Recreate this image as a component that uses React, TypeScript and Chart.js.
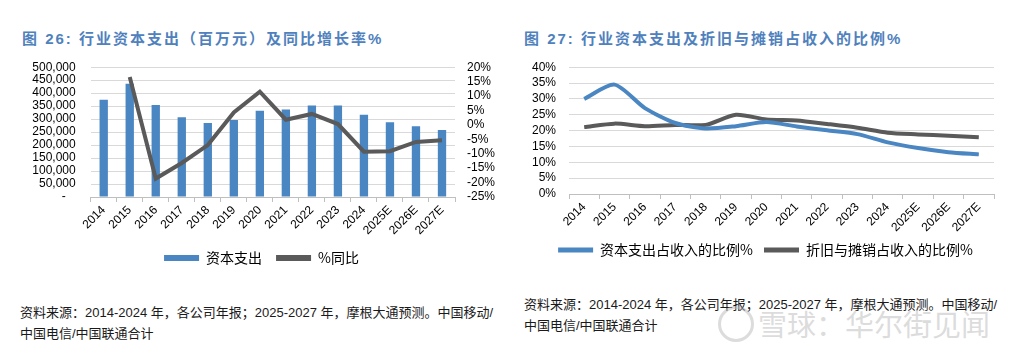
import React, { useEffect, useRef } from 'react';
import { Chart, registerables } from 'chart.js';

Chart.register(...registerables);

const years = ['2014', '2015', '2016', '2017', '2018', '2019', '2020', '2021', '2022', '2023', '2024', '2025E', '2026E', '2027E'];
const capex = [375000, 436000, 354000, 307000, 285000, 297000, 332000, 337000, 352000, 352000, 317000, 288000, 273000, 258000];
const capexYoY = [null, 16.6, -18.6, -13.2, -7.0, 4.3, 11.5, 1.8, 3.8, 0.3, -9.3, -9.1, -5.9, -5.3];
const capexToRevenue = [30.0, 34.5, 27.1, 22.4, 20.7, 21.4, 22.7, 21.3, 20.1, 18.9, 16.3, 14.5, 13.2, 12.5];
const daToRevenue = [21.1, 22.2, 21.4, 21.8, 21.8, 25.0, 23.5, 23.2, 22.1, 20.9, 19.3, 18.8, 18.4, 17.9];

const leftLegend = ['资本支出', '%同比'];
const rightLegend = ['资本支出占收入的比例%', '折旧与摊销占收入的比例%'];

const BLUE = '#4A86C2';
const GRAY = '#5A5A5A';
const GRID = '#D9D9D9';
const AXIS = '#BFBFBF';
const TICK_FONT = { family: "'Liberation Sans', Arial, sans-serif", size: 12 };
const LEGEND_FONT = { family: "'Noto Sans CJK SC', sans-serif", size: 14 };

function legendShift(target: number) {
  return {
    id: 'legendShift',
    afterLayout(chart: any) {
      const lg = chart.legend;
      if (!lg) return;
      const cur = (lg.left + lg.right) / 2;
      const d = target - cur;
      lg.left += d;
      lg.right += d;
    },
  };
}

function flatLegendLabels(chart: any) {
  const items = Chart.defaults.plugins.legend.labels.generateLabels(chart);
  return items.map((it: any) => ({ ...it, fillStyle: it.strokeStyle, lineWidth: 0, fontColor: '#000' }));
}

const legendSort = (a: any, b: any) => a.datasetIndex - b.datasetIndex;

function LeftChart() {
  const ref = useRef<HTMLCanvasElement>(null);
  useEffect(() => {
    const chart = new Chart(ref.current!, {
      type: 'bar',
      data: {
        labels: years,
        datasets: [
          {
            type: 'bar',
            label: leftLegend[0],
            data: capex,
            backgroundColor: BLUE,
            borderColor: BLUE,
            borderWidth: 0,
            barPercentage: 0.32,
            categoryPercentage: 1,
            yAxisID: 'y',
            order: 2,
          } as any,
          {
            type: 'line',
            label: leftLegend[1],
            data: capexYoY,
            borderColor: GRAY,
            backgroundColor: GRAY,
            borderWidth: 4,
            pointRadius: 0,
            tension: 0,
            yAxisID: 'y1',
            order: 1,
          } as any,
        ],
      },
      options: {
        animation: false,
        responsive: false,
        maintainAspectRatio: false,
        layout: { padding: { top: 0, bottom: 0, left: 0, right: 0 } },
        plugins: {
          legend: {
            position: 'bottom',
            labels: {
              boxWidth: 35,
              boxHeight: 6,
              padding: 14,
              font: LEGEND_FONT,
              color: '#000',
              generateLabels: flatLegendLabels,
              sort: legendSort,
            },
          },
          tooltip: { enabled: false },
        },
        scales: {
          x: {
            grid: { offset: true, drawOnChartArea: false, drawTicks: true, tickLength: 5, color: AXIS },
            border: { display: true, color: AXIS },
            ticks: { font: TICK_FONT, color: '#000', minRotation: 45, maxRotation: 45, autoSkip: false, padding: 1 },
            afterFit: (s: any) => { s.height = 40; },
          },
          y: {
            position: 'left',
            min: 0,
            max: 500000,
            grid: { color: GRID, drawTicks: false, tickLength: 0 },
            border: { display: false },
            ticks: {
              stepSize: 50000,
              autoSkip: false,
              font: TICK_FONT,
              color: '#000',
              padding: 15,
              callback: (v: any) => (Number(v) === 0 ? '-   ' : Number(v).toLocaleString('en-US')),
            },
            afterFit: (s: any) => { s.width = 70.7; },
          },
          y1: {
            position: 'right',
            min: -25,
            max: 20,
            grid: { display: false, drawTicks: false, tickLength: 0 },
            border: { display: false },
            ticks: { stepSize: 5, autoSkip: false, font: TICK_FONT, color: '#000', padding: 12, callback: (v: any) => `${v}%` },
            afterFit: (s: any) => { s.width = 55; },
          },
        },
      } as any,
      plugins: [legendShift(241.5)],
    });
    return () => chart.destroy();
  }, []);
  return <canvas ref={ref} width={490} height={230} style={{ position: 'absolute', left: 20, top: 44.5, width: 490, height: 230 }} />;
}

function RightChart() {
  const ref = useRef<HTMLCanvasElement>(null);
  useEffect(() => {
    const chart = new Chart(ref.current!, {
      type: 'line',
      data: {
        labels: years,
        datasets: [
          {
            label: rightLegend[0],
            data: capexToRevenue,
            borderColor: BLUE,
            backgroundColor: BLUE,
            borderWidth: 4,
            pointRadius: 0,
            tension: 0.25,
          },
          {
            label: rightLegend[1],
            data: daToRevenue,
            borderColor: GRAY,
            backgroundColor: GRAY,
            borderWidth: 4,
            pointRadius: 0,
            tension: 0.25,
          },
        ],
      },
      options: {
        animation: false,
        responsive: false,
        maintainAspectRatio: false,
        layout: { padding: { top: 0, bottom: 0, left: 0, right: 16 } },
        plugins: {
          legend: {
            position: 'bottom',
            labels: {
              boxWidth: 35,
              boxHeight: 5,
              padding: 11,
              font: LEGEND_FONT,
              color: '#000',
              generateLabels: flatLegendLabels,
              sort: legendSort,
            },
          },
          tooltip: { enabled: false },
        },
        scales: {
          x: {
            offset: true,
            grid: { offset: true, drawOnChartArea: false, drawTicks: true, tickLength: 5, color: AXIS },
            border: { display: true, color: AXIS },
            ticks: { font: TICK_FONT, color: '#000', minRotation: 45, maxRotation: 45, autoSkip: false, padding: 1 },
            afterFit: (s: any) => { s.height = 38; },
          },
          y: {
            min: 0,
            max: 40,
            grid: { color: GRID, drawTicks: false, tickLength: 0 },
            border: { display: false },
            ticks: { stepSize: 5, autoSkip: false, font: TICK_FONT, color: '#000', padding: 13, callback: (v: any) => `${v}%` },
            afterFit: (s: any) => { s.width = 49; },
          },
        },
      } as any,
      plugins: [legendShift(245.5)],
    });
    return () => chart.destroy();
  }, []);
  return <canvas ref={ref} width={490} height={220} style={{ position: 'absolute', left: 520, top: 46.5, width: 490, height: 220 }} />;
}

const titleStyle: React.CSSProperties = {
  position: 'absolute',
  top: 31,
  fontFamily: "'Liberation Sans', 'Noto Sans CJK SC', sans-serif",
  fontWeight: 'bold',
  fontSize: 15,
  lineHeight: '16px',
  letterSpacing: '2px',
  color: '#4F81BD',
  whiteSpace: 'nowrap',
};

const noteStyle: React.CSSProperties = {
  position: 'absolute',
  fontFamily: "'Liberation Sans', 'Noto Sans CJK SC', sans-serif",
  fontSize: 13,
  lineHeight: '21px',
  color: '#1a1a1a',
  whiteSpace: 'nowrap',
};

export default function App() {
  return (
    <div style={{ position: 'fixed', left: 0, top: 0, width: 1024, height: 354, background: '#fff', overflow: 'hidden' }}>
      <div style={{ ...titleStyle, left: 22 }}>图 26: 行业资本支出（百万元）及同比增长率%</div>
      <div style={{ ...titleStyle, left: 524 }}>图 27: 行业资本支出及折旧与摊销占收入的比例%</div>
      <LeftChart />
      <RightChart />
      <div style={{ ...noteStyle, left: 20, top: 302 }}>
        资料来源：2014-2024 年，各公司年报；2025-2027 年，摩根大通预测。中国移动/
        <br />
        中国电信/中国联通合计
      </div>
      <div style={{ ...noteStyle, left: 524, top: 294 }}>
        资料来源：2014-2024 年，各公司年报；2025-2027 年，摩根大通预测。中国移动/
        <br />
        中国电信/中国联通合计
      </div>
      <div
        style={{
          position: 'absolute',
          left: 718,
          top: 306,
          width: 30,
          height: 30,
          borderRadius: '50%',
          border: '3px solid rgba(185,185,185,0.5)',
        }}
      />
      <div
        style={{
          position: 'absolute',
          left: 758,
          top: 303,
          fontFamily: "'Noto Sans CJK SC', sans-serif",
          fontSize: 29,
          lineHeight: '40px',
          color: 'rgba(185,185,185,0.5)',
          whiteSpace: 'nowrap',
        }}
      >
        雪球：华尔街见闻
      </div>
    </div>
  );
}
